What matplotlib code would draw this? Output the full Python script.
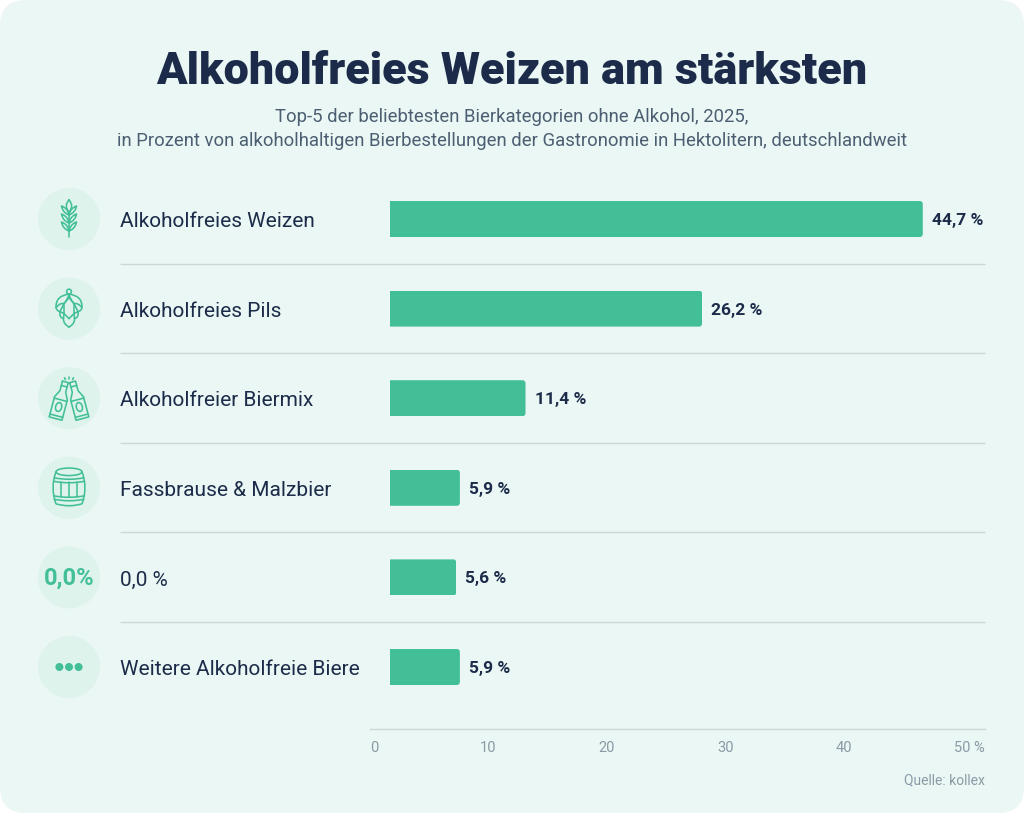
import matplotlib
matplotlib.use("Agg")
import matplotlib.pyplot as plt
from matplotlib.patches import Circle, Ellipse, FancyBboxPatch, PathPatch
from matplotlib.path import Path
from matplotlib.transforms import Affine2D

categories = ["Alkoholfreies Weizen", "Alkoholfreies Pils", "Alkoholfreier Biermix",
              "Fassbrause & Malzbier", "0,0 %", "Weitere Alkoholfreie Biere"]
values = [44.7, 26.2, 11.4, 5.9, 5.6, 5.9]
value_labels = ["44,7 %", "26,2 %", "11,4 %", "5,9 %", "5,6 %", "5,9 %"]
tick_values = [0, 10, 20, 30, 40, 50]
tick_labels = ["0", "10", "20", "30", "40", "50 %"]

title = "Alkoholfreies Weizen am stärksten"
subtitle = ("Top-5 der beliebtesten Bierkategorien ohne Alkohol, 2025,\n"
            "in Prozent von alkoholhaltigen Bierbestellungen der Gastronomie in Hektolitern, deutschlandweit")
source = "Quelle: kollex"

W, H = 1024, 814
BG = "#EAF7F4"
CIRCLE = "#DDF3EC"
GREEN = "#43BF98"
DARK = "#1C2B49"
SUB = "#4C5E72"
GREY = "#8B9AA6"
RULE = "#CBD8D6"
FONT = "Roboto"


def px_axes(fig, left, top, right, bottom):
    return fig.add_axes([left / W, 1 - bottom / H, (right - left) / W, (bottom - top) / H])


def line_patch(verts, codes=None, lw=1.15, fill=False, zorder=5):
    return PathPatch(Path(verts, codes), fill=fill, facecolor=GREEN if fill else "none",
                     edgecolor=GREEN, lw=lw, zorder=zorder, capstyle="round", joinstyle="round")


def lens(x0, y0, x1, y1, bulge):
    # leaf between two points, bulge = width to each side
    mx, my = (x0 + x1) / 2, (y0 + y1) / 2
    dx, dy = x1 - x0, y1 - y0
    n = (dx * dx + dy * dy) ** 0.5
    nx, ny = -dy / n * bulge, dx / n * bulge
    return line_patch([(x0, y0), (mx + nx, my + ny), (x1, y1), (mx - nx, my - ny), (x0, y0)],
                      [Path.MOVETO, Path.CURVE3, Path.CURVE3, Path.CURVE3, Path.CURVE3])


def draw_wheat(ax, cx, cy):
    ax.add_patch(line_patch([(cx, cy - 7), (cx, cy + 18)]))
    ax.add_patch(lens(cx, cy - 19, cx, cy - 7, 5.5))
    for off in (-6, 2, 10):
        for side in (-1, 1):
            ax.add_patch(lens(cx, cy + off + 2, cx + side * 7.5, cy + off - 7, 3.4))


def draw_hop(ax, cx, cy):
    ax.add_patch(Circle((cx, cy - 17), 2.4, fill=False, edgecolor=GREEN, lw=1.15, zorder=5))
    for s in (-1, 1):
        # outer silhouette of one side
        verts = [(cx, cy - 14.5), (cx + s * 13, cy - 13), (cx + s * 13, cy - 2), (cx + s * 13, cy + 2),
                 (cx + s * 9, cy + 3), (cx + s * 10, cy + 9), (cx + s * 5.5, cy + 10),
                 (cx + s * 6, cy + 15), (cx, cy + 18.5)]
        ax.add_patch(line_patch(verts, [Path.MOVETO, Path.CURVE3, Path.CURVE3, Path.CURVE3, Path.CURVE3,
                                        Path.CURVE3, Path.CURVE3, Path.CURVE3, Path.CURVE3]))
        # inner edge of the big top scale
        verts = [(cx, cy - 14.5), (cx + s * 1, cy - 9), (cx + s * 5, cy - 5), (cx + s * 9, cy - 6), (cx + s * 13, cy - 1)]
        ax.add_patch(line_patch(verts, [Path.MOVETO, Path.CURVE3, Path.CURVE3, Path.CURVE3, Path.CURVE3]))
        # scales below it
        ax.add_patch(line_patch([(cx + s * 5, cy - 5), (cx + s * 9, cy + 3), (cx + s * 5, cy + 5)]))
        ax.add_patch(line_patch([(cx, cy - 11), (cx + s * 5, cy - 5), (cx + s * 5, cy + 5), (cx, cy + 10)]))
        ax.add_patch(line_patch([(cx + s * 5, cy + 5), (cx + s * 5.5, cy + 10)]))


def draw_bottle(ax, cx, cy, angle):
    rot = Affine2D().rotate_deg(angle).translate(cx, cy)
    pts = [(-3, -20), (3, -20), (3, -10), (6.6, -3), (6.6, 18), (-6.6, 18), (-6.6, -3), (-3, -10), (-3, -20)]
    ax.add_patch(line_patch(rot.transform(pts)))
    ax.add_patch(line_patch(rot.transform([(-3, -15.5), (3, -15.5)])))
    ax.add_patch(line_patch(rot.transform([(-6.6, 15), (6.6, 15)])))
    ax.add_patch(line_patch(rot.transform([(-6.6, -1.5), (6.6, -1.5)])))
    c = rot.transform([(0, 6)])[0]
    ax.add_patch(Ellipse(c, 6, 9, angle=angle, fill=False, edgecolor=GREEN, lw=1.15, zorder=5))


def draw_bottles(ax, cx, cy):
    draw_bottle(ax, cx - 8.8, cy + 3, 15)
    draw_bottle(ax, cx + 8.8, cy + 3, -15)
    for x0, y0, x1, y1 in [(cx, cy - 19, cx, cy - 21.5), (cx - 3.5, cy - 18.5, cx - 4.5, cy - 20.5),
                           (cx + 3.5, cy - 18.5, cx + 4.5, cy - 20.5)]:
        ax.add_patch(line_patch([(x0, y0), (x1, y1)]))


def draw_barrel(ax, cx, cy):
    verts = [(cx - 13, cy - 16), (cx - 19, cy), (cx - 13, cy + 16), (cx, cy + 20), (cx + 13, cy + 16),
             (cx + 19, cy), (cx + 13, cy - 16)]
    ax.add_patch(line_patch(verts, [Path.MOVETO, Path.CURVE3, Path.CURVE3, Path.CURVE3, Path.CURVE3,
                                    Path.CURVE3, Path.CURVE3]))
    ax.add_patch(Ellipse((cx, cy - 16), 26, 7.5, fill=False, edgecolor=GREEN, lw=1.15, zorder=5))
    for y, half in [(-10, 14.8), (-6.5, 15.5), (8, 15.5), (11.5, 14.8)]:
        ax.add_patch(line_patch([(cx - half, cy + y), (cx, cy + y + 3), (cx + half, cy + y)],
                                [Path.MOVETO, Path.CURVE3, Path.CURVE3]))
    for x in (-8, 0, 8):
        ax.add_patch(line_patch([(cx + x, cy - 5.5), (cx + x, cy + 9)]))


def draw_zero(ax, cx, cy):
    ax.text(cx, cy + 0.5, "0,0%", color=GREEN, fontsize=17, fontweight="bold", fontfamily=FONT,
            ha="center", va="center", zorder=5)


def draw_dots(ax, cx, cy):
    for off in (-9.6, 0, 9.6):
        ax.add_patch(Circle((cx + off, cy), 3.3, color=GREEN, zorder=5))


fig = plt.figure(figsize=(W / 100, H / 100), dpi=100, facecolor="white")

# panel, icons, rules and texts sit on a full size pixel layer
bg = fig.add_axes([0, 0, 1, 1], zorder=0)
bg.set_xlim(0, W)
bg.set_ylim(H, 0)
bg.axis("off")
bg.add_patch(FancyBboxPatch((0, 0), W, H - 1, boxstyle="round,pad=0,rounding_size=26", facecolor=BG, edgecolor="none"))

row_y = [219, 308.6, 398.2, 487.8, 577.4, 667]
icons = [draw_wheat, draw_hop, draw_bottles, draw_barrel, draw_zero, draw_dots]
for y, name, icon in zip(row_y, categories, icons):
    bg.add_patch(Circle((69, y), 31, facecolor=CIRCLE, edgecolor="none", zorder=2))
    icon(bg, 69, y)
    bg.text(119.5, y + 0.5, name, color=DARK, fontsize=15.05, fontfamily=FONT, ha="left", va="center_baseline")
for y in row_y[:-1]:
    bg.plot([120, 985], [y + 44.5, y + 44.5], color=RULE, lw=1.0, solid_capstyle="butt")

bg.text(512, 67, title, color=DARK, fontsize=32.4, fontweight="black", fontfamily=FONT, ha="center", va="center_baseline")
bg.text(512, 129, subtitle, color=SUB, fontsize=13.35, fontfamily=FONT, ha="center", va="center", linespacing=1.38)
bg.text(985, 779, source, color=GREY, fontsize=10, fontfamily=FONT, ha="right", va="center_baseline")

# bars
ax = px_axes(fig, 389.5, 174.2, 985, 711.8)
ax.set_zorder(1)
ax.patch.set_alpha(0)
px_x = 11.93
ax.set_xlim(0, 595.5 / px_x)
ax.set_ylim(5.5, -0.5)
ax.axis("off")
bars = ax.barh(range(len(values)), values, height=36 / 89.6, color=GREEN)
for bar, val, lab, i in zip(bars, values, value_labels, range(len(values))):
    # only the right end of each bar is rounded
    clip = FancyBboxPatch((-1, i - 18 / 89.6), val + 1, 36 / 89.6, boxstyle="round,pad=0,rounding_size=0.25",
                          mutation_aspect=px_x / 89.6, transform=ax.transData)
    bar.set_clip_path(clip)
    ax.annotate(lab, (val, i), xytext=(6.6, 0), textcoords="offset points", color=DARK, fontsize=12.5,
                fontweight="bold", fontfamily=FONT, ha="left", va="center_baseline")

# axis below the bars, its labels are spaced on their own scale
ax2 = px_axes(fig, 370, 700, 985, 728.5)
ax2.set_zorder(1)
ax2.patch.set_alpha(0)
ax2.set_xlim(0, 615 / 11.84)
ax2.set_yticks([])
ax2.set_xticks(tick_values)
ax2.tick_params(axis="x", length=0, labelbottom=False)
for side in ("top", "left", "right"):
    ax2.spines[side].set_visible(False)
ax2.spines["bottom"].set_color(RULE)
ax2.spines["bottom"].set_linewidth(1.0)
for tv, tl in zip(tick_values, tick_labels):
    ha = {0: "left", 50: "right"}.get(tv, "center")
    x = {0: 0, 50: 615 / 11.84}.get(tv, tv)
    ax2.annotate(tl, (x, 0), xytext=(0, -13), textcoords="offset points", xycoords=("data", "axes fraction"),
                 color=GREY, fontsize=10.5, fontfamily=FONT, ha=ha, va="center_baseline")

fig.savefig("out.png", dpi=100, facecolor="white")
